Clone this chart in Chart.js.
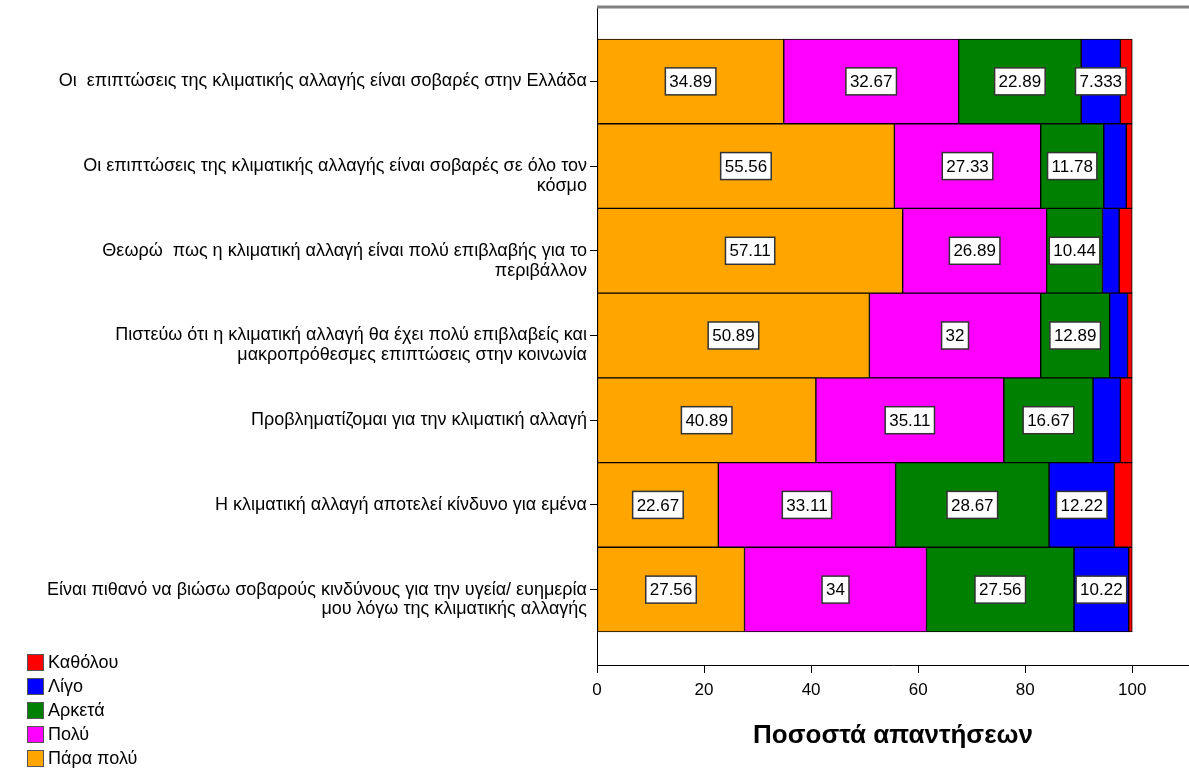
<!DOCTYPE html>
<html>
<head>
<meta charset="utf-8">
<script src="https://cdn.jsdelivr.net/npm/chart.js@4/dist/chart.umd.min.js"></script>
<style>
  html, body { margin: 0; padding: 0; background: #fff; }
  #wrap { position: relative; width: 1189px; height: 774px; }
  #legend { position: absolute; left: 27px; top: 650px; font-family: Arial, "Liberation Sans", sans-serif; font-size: 18px; color: #000; }
  .item { height: 24px; display: flex; align-items: center; }
  .sw { width: 15px; height: 15px; border: 1px solid #555; margin-right: 4px; }
</style>
</head>
<body>
<div id="wrap">
  <canvas id="chart" width="1189" height="774"></canvas>
  <div id="legend"></div>
</div>
<script>
const categories = [
  ['Οι  επιπτώσεις της κλιματικής αλλαγής είναι σοβαρές στην Ελλάδα'],
  ['Οι επιπτώσεις της κλιματικής αλλαγής είναι σοβαρές σε όλο τον', 'κόσμο'],
  ['Θεωρώ  πως η κλιματική αλλαγή είναι πολύ επιβλαβής για το', 'περιβάλλον'],
  ['Πιστεύω ότι η κλιματική αλλαγή θα έχει πολύ επιβλαβείς και', 'μακροπρόθεσμες επιπτώσεις στην κοινωνία'],
  ['Προβληματίζομαι για την κλιματική αλλαγή'],
  ['Η κλιματική αλλαγή αποτελεί κίνδυνο για εμένα'],
  ['Είναι πιθανό να βιώσω σοβαρούς κινδύνους για την υγεία/ ευημερία', 'μου λόγω της κλιματικής αλλαγής']
];
const seriesNames = ['Πάρα πολύ', 'Πολύ', 'Αρκετά', 'Λίγο', 'Καθόλου'];
const seriesColors = ['#FFA500', '#FF00FF', '#008000', '#0000FF', '#FF0000'];
const paraPoly = [34.89, 55.56, 57.11, 50.89, 40.89, 22.67, 27.56];
const poly     = [32.67, 27.33, 26.89, 32, 35.11, 33.11, 34];
const arketa   = [22.89, 11.78, 10.44, 12.89, 16.67, 28.67, 27.56];
const ligo     = [7.333, 4.22, 3.11, 3.33, 5.11, 12.22, 10.22];
const katholou = [2.22, 1.11, 2.44, 0.89, 2.22, 3.33, 0.66];
const xTicks = [0, 20, 40, 60, 80, 100];
const axisTitle = 'Ποσοστά απαντήσεων';

const FONT = 'Arial, "Liberation Sans", sans-serif';
const series = [paraPoly, poly, arketa, ligo, katholou];

// white boxed value labels inside the bigger segments
const boxLabels = {
  id: 'boxLabels',
  afterDatasetsDraw(chart) {
    const ctx = chart.ctx;
    ctx.save();
    ctx.font = '17px ' + FONT;
    ctx.textAlign = 'center';
    ctx.textBaseline = 'middle';
    chart.data.datasets.forEach((ds, i) => {
      chart.getDatasetMeta(i).data.forEach((bar, j) => {
        const v = ds.data[j].x;
        if (v < 6) return;
        const txt = String(v);
        const cx = (bar.x + bar.base) / 2, cy = bar.y;
        const w = ctx.measureText(txt).width + 8, h = 27;
        ctx.fillStyle = '#fff';
        ctx.fillRect(cx - w / 2, cy - h / 2, w, h);
        ctx.strokeStyle = '#333';
        ctx.lineWidth = 1.5;
        ctx.strokeRect(cx - w / 2, cy - h / 2, w, h);
        ctx.fillStyle = '#000';
        ctx.fillText(txt, cx, cy + 1);
      });
    });
    ctx.restore();
  }
};

const topLine = {
  id: 'topLine',
  afterDraw(chart) {
    const {ctx, chartArea} = chart;
    ctx.save();
    ctx.strokeStyle = '#808080';
    ctx.lineWidth = 3;
    ctx.beginPath();
    ctx.moveTo(chartArea.left, chartArea.top);
    ctx.lineTo(chart.width, chartArea.top);
    ctx.stroke();
    ctx.restore();
  }
};

const ctx = document.getElementById('chart').getContext('2d');
new Chart(ctx, {
  type: 'bar',
  data: {
    datasets: series.map((vals, i) => ({
      label: seriesNames[i],
      data: vals.map((v, j) => ({ x: v, y: j })),
      backgroundColor: seriesColors[i],
      borderColor: '#000',
      borderWidth: 1,
      borderSkipped: false,
      barPercentage: 1,
      categoryPercentage: 1
    }))
  },
  options: {
    indexAxis: 'y',
    responsive: false,
    animation: false,
    layout: { padding: { top: 7, right: 0, bottom: 0, left: 0 } },
    plugins: {
      legend: { display: false },
      tooltip: { enabled: false }
    },
    scales: {
      x: {
        type: 'linear',
        stacked: true,
        min: 0,
        max: 110.6,
        afterFit: (scale) => { scale.height = 109; scale.paddingLeft = 0; scale.paddingRight = 0; },
        afterBuildTicks: (axis) => { axis.ticks = xTicks.map(v => ({ value: v })); },
        ticks: { color: '#000', font: { family: FONT, size: 17 }, padding: 7, maxRotation: 0, autoSkip: false },
        grid: { drawOnChartArea: false, color: '#000', tickLength: 8 },
        border: { color: '#000', width: 1 },
        title: { display: true, text: axisTitle, color: '#000', font: { family: FONT, size: 26, weight: 'bold' }, padding: { top: 0, bottom: 23 } }
      },
      y: {
        type: 'linear',
        stacked: true,
        reverse: true,
        offset: false,
        min: -0.878,
        max: 6.89,
        afterFit: (scale) => { scale.width = 597; scale.paddingTop = 0; scale.paddingBottom = 0; },
        afterBuildTicks: (axis) => { axis.ticks = categories.map((c, i) => ({ value: i })); },
        ticks: {
          color: '#000',
          font: { family: FONT, size: 18, lineHeight: 1.1 },
          padding: 3,
          autoSkip: false,
          // first line sits on the tick, the wrapped part goes below it
          callback: (v) => {
            const lines = categories[v] || [''];
            return lines.length > 1 ? [''].concat(lines) : lines;
          }
        },
        grid: { offset: false, drawOnChartArea: false, color: '#000', tickLength: 7 },
        border: { color: '#000', width: 1 }
      }
    }
  },
  plugins: [boxLabels, topLine]
});

// legend, bottom-left, reversed order like the original
const legend = document.getElementById('legend');
for (let i = seriesNames.length - 1; i >= 0; i--) {
  const item = document.createElement('div');
  item.className = 'item';
  const sw = document.createElement('span');
  sw.className = 'sw';
  sw.style.background = seriesColors[i];
  const label = document.createElement('span');
  label.textContent = seriesNames[i];
  item.appendChild(sw);
  item.appendChild(label);
  legend.appendChild(item);
}
</script>
</body>
</html>
